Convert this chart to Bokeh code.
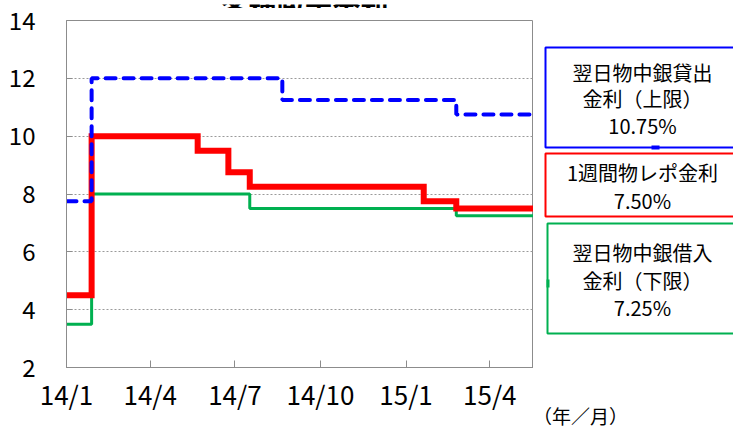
import pandas as pd
from bokeh.plotting import figure
from bokeh.models import FixedTicker, Range1d
from bokeh.layouts import column, row
from bokeh.core.properties import value
from bokeh.embed import file_html
from bokeh.resources import INLINE

# ---- data ----
start_date = "2014-01-01"
end_date = "2015-05-18"

upper_dates = ["2014-01-01", "2014-01-28", "2014-08-21", "2015-02-24"]
upper_rates = [7.75, 12.0, 11.25, 10.75]

repo_dates = ["2014-01-01", "2014-01-28", "2014-05-22", "2014-06-24", "2014-07-17", "2015-01-20", "2015-02-24"]
repo_rates = [4.5, 10.0, 9.5, 8.75, 8.25, 7.75, 7.5]

lower_dates = ["2014-01-01", "2014-01-28", "2014-07-17", "2015-02-24"]
lower_rates = [3.5, 8.0, 7.5, 7.25]

tick_dates = ["2014-01-01", "2014-04-01", "2014-07-01", "2014-10-01", "2015-01-01", "2015-04-01"]
tick_labels = ["14/1", "14/4", "14/7", "14/10", "15/1", "15/4"]
y_ticks = [2, 4, 6, 8, 10, 12, 14]

title_text = "各種政策金利"
legend_texts = [
    ["翌日物中銀貸出", "金利（上限）", "10.75%"],
    ["1週間物レポ金利", "7.50%"],
    ["翌日物中銀借入", "金利（下限）", "7.25%"],
]
unit_text = "（年／月）"

# ---- helpers ----
t0 = pd.Timestamp(start_date)
def days(d):
    return float((pd.Timestamp(d) - t0).days)

x_end = days(end_date)

def step_xy(dates, rates):
    xs = [days(d) for d in dates] + [x_end]
    ys = list(rates) + [rates[-1]]
    return xs, ys

FONT = "Noto Sans CJK JP"
TITLE_H = 8

def bare(fig):
    fig.axis.visible = False
    fig.grid.visible = False
    fig.outline_line_color = None
    fig.background_fill_color = "white"
    fig.border_fill_color = "white"
    fig.min_border_left = 0
    fig.min_border_right = 0
    fig.min_border_top = 0
    fig.min_border_bottom = 0
    fig.frame_align = False

# ---- title strip (title text mostly above the page) ----
tf = figure(width=733, height=TITLE_H, output_backend="svg", toolbar_location=None,
            x_range=Range1d(0, 733), y_range=Range1d(TITLE_H, 0))
bare(tf)
tf.text(x=[304], y=[3], text=[title_text], text_font=value(FONT), text_font_size="28px",
        text_font_style="bold", text_align="center", text_baseline="alphabetic", text_color="black")

# ---- main chart ----
p = figure(width=533, height=427 - TITLE_H, output_backend="svg", toolbar_location=None,
           x_range=Range1d(0, x_end), y_range=Range1d(2, 14),
           min_border_left=66, min_border_right=0, min_border_top=20 - TITLE_H, min_border_bottom=60)
p.frame_align = False
p.background_fill_color = "white"
p.border_fill_color = "white"
p.outline_line_color = "#8c8c8c"
p.outline_line_width = 1

p.xgrid.visible = False
p.ygrid.grid_line_color = "#9a9a9a"
p.ygrid.grid_line_dash = "2 2"
p.ygrid.grid_line_width = 1

p.xaxis.ticker = FixedTicker(ticks=[days(d) for d in tick_dates])
p.xaxis.major_label_overrides = {days(d): lab for d, lab in zip(tick_dates, tick_labels)}
p.xaxis.axis_line_color = "#8c8c8c"
p.xaxis.major_tick_line_color = "#8c8c8c"
p.xaxis.major_tick_in = 7
p.xaxis.major_tick_out = 0
p.xaxis.minor_tick_line_color = None
p.xaxis.major_label_text_font = FONT
p.xaxis.major_label_text_font_size = "26px"
p.xaxis.major_label_text_color = "black"
p.xaxis.major_label_standoff = 7

p.yaxis.ticker = FixedTicker(ticks=y_ticks)
p.yaxis.axis_line_color = "#8c8c8c"
p.yaxis.major_tick_line_color = "#8c8c8c"
p.yaxis.major_tick_in = 6
p.yaxis.major_tick_out = 0
p.yaxis.minor_tick_line_color = None
p.yaxis.major_label_text_font = FONT
p.yaxis.major_label_text_font_size = "24px"
p.yaxis.major_label_text_color = "black"
p.yaxis.major_label_standoff = 31

xs, ys = step_xy(lower_dates, lower_rates)
p.step(xs, ys, mode="after", line_color="#00b050", line_width=3)
xs, ys = step_xy(repo_dates, repo_rates)
p.step(xs, ys, mode="after", line_color="#ff0000", line_width=6, line_join="miter")
xs, ys = step_xy(upper_dates, upper_rates)
p.step(xs, ys, mode="after", line_color="#0000ff", line_width=4, line_dash="10 8", line_cap="round")

# ---- legend panel on the right (coordinates = page pixels) ----
lg = figure(width=733 - 533, height=427 - TITLE_H, output_backend="svg", toolbar_location=None,
            x_range=Range1d(533, 733), y_range=Range1d(427, TITLE_H))
bare(lg)

boxes = [
    dict(left=545, right=745, top=47, bottom=147, color="#0000ff", lines=[72, 98, 125]),
    dict(left=545, right=745, top=153, bottom=216, color="#ff0000", lines=[172, 200]),
    dict(left=547, right=745, top=223, bottom=333, color="#00b050", lines=[252, 280, 307]),
]
for b, texts in zip(boxes, legend_texts):
    lg.quad(left=[b["left"]], right=[b["right"]], top=[b["top"]], bottom=[b["bottom"]],
            fill_alpha=0, line_color=b["color"], line_width=2)
    lg.text(x=[642] * len(texts), y=b["lines"], text=texts, text_font=value(FONT),
            text_font_size="20px", text_align="center", text_baseline="middle", text_color="black")

# small callout connectors
lg.quad(left=[651], right=[659], top=[145], bottom=[149], fill_color="#0000ff", line_color=None)
lg.quad(left=[546], right=[549], top=[279], bottom=[287], fill_color="#00b050", line_color=None)

lg.text(x=[580], y=[415], text=[unit_text], text_font=value(FONT), text_font_size="19px",
        text_align="center", text_baseline="middle", text_color="black")

layout = column(tf, row(p, lg, spacing=0), spacing=0)
open("out.html", "w").write(file_html(layout, INLINE))
